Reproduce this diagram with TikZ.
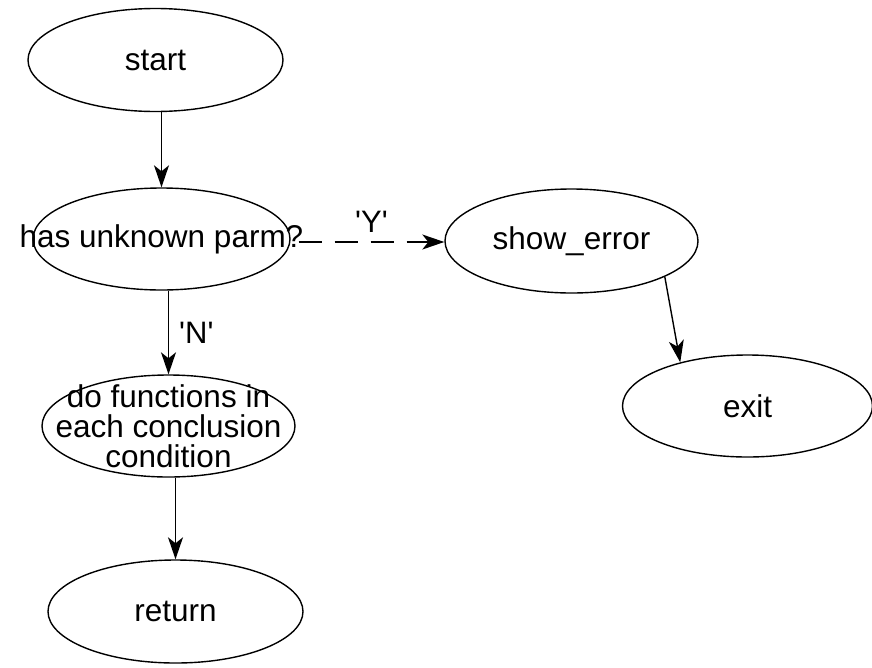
\documentclass[tikz,border=0pt]{standalone}
\usepackage{fontspec}
\setmainfont{Liberation Sans}
\usetikzlibrary{shapes.geometric,arrows.meta}
\begin{document}
\begin{tikzpicture}[x=1pt,y=-1pt,
  ell/.style={ellipse, draw, line width=1.4pt, minimum width=255pt, minimum height=103pt, inner sep=0pt},
  every label/.style={font=\fontsize{31.5}{30}\selectfont, align=center, inner sep=0pt},
  arr/.style={line width=1.4pt, -{Stealth[length=22pt, width=15pt, inset=6pt]}},
  lbl/.style={font=\fontsize{31}{30}\selectfont, inner sep=0pt}]
\useasboundingbox (0,0) rectangle (872,667);
\node[ell, label=center:{start}] (start) at (155.5,60) {};
\node[ell, minimum width=257pt, minimum height=102pt, label=center:{has unknown parm?}] (hup) at (161.5,239) {};
\node[ell, minimum width=253pt, minimum height=104pt, label=center:{show\_error}] (show) at (571.5,241) {};
\node[ell, minimum width=250pt, minimum height=102pt, label=center:{exit}] (exit) at (747.5,406) {};
\node[ell, minimum width=253pt, minimum height=102pt, label={center:{do functions in\\each conclusion\\condition}}] (dofn) at (168.5,426) {};
\node[ell, minimum width=255pt, minimum height=103pt, label=center:{return}] (ret) at (175.5,611.5) {};

\draw[arr] (start.south -| hup.north) -- (hup.north);
\draw[arr, dash pattern=on 23pt off 13pt] (hup.east) ++(8,3) coordinate (ys) -- (ys -| show.west)
  node[lbl, midway, above=9pt] {\textquotesingle Y\textquotesingle};
\draw[arr] (hup.south -| dofn.north) -- (dofn.north)
  node[lbl, midway, right=10pt] {\textquotesingle N\textquotesingle};
\draw[arr] (show.-21) -- (exit.147);
\draw[arr] (dofn.south -| ret.north) -- (ret.north);
\end{tikzpicture}
\end{document}
